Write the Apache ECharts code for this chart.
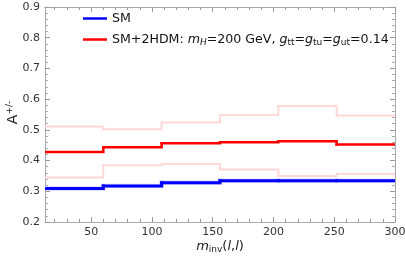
<!DOCTYPE html>
<html><head><meta charset="utf-8">
<script src="https://cdn.jsdelivr.net/npm/echarts@6/dist/echarts.min.js"></script>
<style>html,body{margin:0;padding:0;background:#fff}#c{width:405px;height:262px}</style>
</head><body><div id="c"></div>
<script>
const binEdges = [12, 60, 108, 156, 204, 252, 300];
const smValues = [0.309, 0.317, 0.328, 0.334, 0.334, 0.334];
const bsmValues = [0.428, 0.443, 0.456, 0.460, 0.463, 0.452];
const bsmUpper = [0.511, 0.502, 0.524, 0.548, 0.578, 0.547];
const bsmLower = [0.345, 0.385, 0.389, 0.371, 0.350, 0.356];
const xMajorTicks = [50, 100, 150, 200, 250, 300];
const xMinorTicks = [20, 30, 40, 60, 70, 80, 90, 110, 120, 130, 140, 160, 170, 180, 190, 210, 220, 230, 240, 260, 270, 280, 290];

// one item per bin: [lowEdge, highEdge, value, nextValue]
function binData(vals) {
  return vals.map((v, i) => [binEdges[i], binEdges[i + 1], v, i + 1 < vals.length ? vals[i + 1] : v]);
}
function stepSeries(name, vals, color, width, z) {
  return {
    name: name, type: 'custom', data: binData(vals), clip: true, z: z,
    color: color, silent: true,
    encode: { x: [0, 1], y: [2, 3] },
    renderItem: function (params, api) {
      const a = api.coord([api.value(0), api.value(2)]);
      const b = api.coord([api.value(1), api.value(2)]);
      const c = api.coord([api.value(1), api.value(3)]);
      return {
        type: 'polyline',
        shape: { points: [a, b, c] },
        style: { stroke: color, lineWidth: width, fill: null, lineCap: 'square', lineJoin: 'miter' }
      };
    }
  };
}
const F = 'DejaVu Sans';
const axisCol = '#aaaaaa';
function xAx(pos, vals, len, labels, extra) {
  return Object.assign({
    type: 'value', min: 12, max: 300, position: pos,
    axisLine: { show: true, lineStyle: { color: axisCol, width: 1 } },
    axisTick: { show: true, inside: true, length: len, customValues: vals, lineStyle: { color: '#999' } },
    axisLabel: { show: labels, customValues: vals, color: '#333', fontFamily: F, fontSize: 11, margin: 5 },
    splitLine: { show: false }
  }, extra || {});
}
function yAx(pos, labels, extra) {
  return Object.assign({
    type: 'value', min: 0.2, max: 0.9, interval: 0.1, position: pos,
    axisLine: { show: true, lineStyle: { color: axisCol, width: 1 } },
    axisTick: { show: true, inside: true, length: 5, lineStyle: { color: '#999' } },
    minorTick: { show: true, splitNumber: 5, length: 3, lineStyle: { color: '#aaa' } },
    axisLabel: { show: labels, color: '#333', fontFamily: F, fontSize: 11, margin: 5, formatter: v => v.toFixed(1) },
    splitLine: { show: false }
  }, extra || {});
}
const chart = echarts.init(document.getElementById('c'), null, { renderer: 'canvas' });
chart.setOption({
  backgroundColor: '#fff',
  animation: false,
  grid: { left: 45, right: 10, top: 7, bottom: 40, containLabel: false, outerBoundsMode: 'none' },
  legend: {
    orient: 'vertical', left: 78, top: 7, itemGap: 8,
    itemWidth: 24, itemHeight: 2.5, icon: 'rect',
    data: [{ name: 'SM', itemStyle: { color: '#0000ff' } }, { name: 'SM+2HDM', itemStyle: { color: '#ff0000' } }],
    textStyle: {
      fontFamily: F, fontSize: 12.6, color: '#111',
      rich: {
        n: { fontFamily: F, fontSize: 12.6, color: '#111' },
        i: { fontFamily: F, fontSize: 12.6, fontStyle: 'italic', color: '#111' },
        s: { fontFamily: F, fontSize: 9, color: '#111', padding: [6, 0, 0, 0] },
        si: { fontFamily: F, fontSize: 9, fontStyle: 'italic', color: '#111', padding: [6, 0, 0, 0] }
      }
    },
    formatter: function (name) {
      if (name === 'SM') return '{n|SM}';
      return '{n|SM+2HDM: }{i|m}{si|H}{n|=200 GeV, }{i|g}{s|tt}{n|=}{i|g}{s|tu}{n|=}{i|g}{s|ut}{n|=0.14}';
    }
  },
  xAxis: [
    xAx('bottom', xMajorTicks, 5, true, {
      name: '{i|m}{s|inv}{n|(}{i|l}{n|,}{i|l}{n|)}', nameLocation: 'middle', nameGap: 17,
      nameMoveOverlap: false,
      nameTextStyle: {
        verticalAlign: 'top',
        rich: {
          n: { fontFamily: F, fontSize: 13, color: '#222' },
          i: { fontFamily: F, fontSize: 13, fontStyle: 'italic', color: '#222' },
          s: { fontFamily: F, fontSize: 9, color: '#222', padding: [6, 0, 0, 0] }
        }
      }
    }),
    xAx('bottom', xMinorTicks, 3, false),
    xAx('top', xMajorTicks, 5, false),
    xAx('top', xMinorTicks, 3, false)
  ],
  yAxis: [
    yAx('left', true, {
      name: '{n|A}{s|+/-}', nameLocation: 'middle', nameGap: 32, nameRotate: 90,
      nameMoveOverlap: false,
      nameTextStyle: {
        align: 'center', verticalAlign: 'middle', padding: [0, 0, 0, 4],
        rich: {
          n: { fontFamily: F, fontSize: 14, color: '#222' },
          s: { fontFamily: F, fontSize: 9, color: '#222', padding: [0, 0, 7, 0] }
        }
      }
    }),
    yAx('right', false)
  ],
  series: [
    stepSeries('upper', bsmUpper, '#ffd8d8', 2, 1),
    stepSeries('lower', bsmLower, '#ffd8d8', 2, 1),
    stepSeries('SM+2HDM', bsmValues, '#ff0000', 2.5, 3),
    stepSeries('SM band', smValues, '#d8d8ff', 4.5, 2),
    stepSeries('SM', smValues, '#0000ff', 3, 4)
  ]
});
</script></body></html>
